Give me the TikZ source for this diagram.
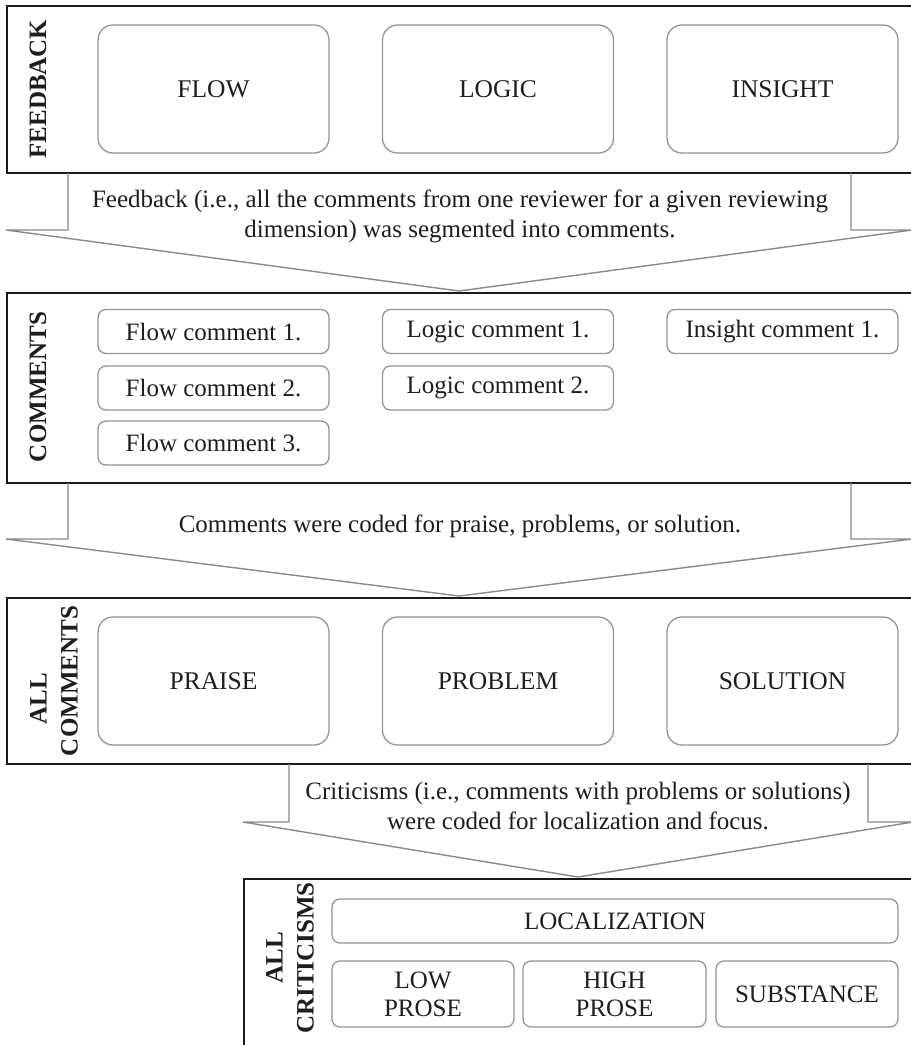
\documentclass[tikz,border=0pt]{standalone}
\usepackage{fontspec}
\setmainfont{Liberation Serif}
\definecolor{framecol}{HTML}{1A1A1A}
\definecolor{boxcol}{HTML}{959595}
\definecolor{arrcol}{HTML}{8A8A8A}
\definecolor{txtcol}{HTML}{1E1E1E}
\tikzset{
  frame/.style={draw=framecol, line width=2pt, fill=white, anchor=north west, inner sep=0pt},
  bigbox/.style={draw=boxcol, line width=1.3pt, rounded corners=15pt, inner sep=0pt,
    text=txtcol, font=\fontsize{25.5}{29}\selectfont, minimum width=231pt, minimum height=128pt, align=center},
  smallbox/.style={draw=boxcol, line width=1.3pt, rounded corners=8pt, inner sep=0pt,
    text=txtcol, font=\fontsize{25}{28}\selectfont, minimum height=44pt, align=center},
  sidelabel/.style={rotate=90, font=\bfseries\fontsize{25}{31}\selectfont, text=txtcol, align=center, inner sep=0pt},
  arrtext/.style={font=\fontsize{25}{30}\selectfont, text=txtcol, align=center, inner sep=0pt},
  blockarrow/.style={draw=arrcol, line width=1.4pt, line join=miter}
}
\begin{document}
\begin{tikzpicture}[x=1pt,y=-1pt]
\useasboundingbox (0,0) rectangle (911,1045);
\clip (0,0) rectangle (911,1045);
\fill[white] (0,0) rectangle (911,1045);

% ---------- Frame 1: FEEDBACK ----------
\node[frame, minimum width=912pt, minimum height=167pt] (f1) at (6,5) {};
\node[sidelabel] (l1) at (38,89) {FEEDBACK};
\node[bigbox] (flow) at (213.5,89) {FLOW};
\node[bigbox] (logic) at (498,89) {LOGIC};
\node[bigbox] (insight) at (782.5,89) {INSIGHT};

% ---------- Frame 2: COMMENTS ----------
\node[frame, minimum width=912pt, minimum height=190pt] (f2) at (6,292) {};
\node[sidelabel] (l2) at (38,387) {COMMENTS};
\node[smallbox, minimum width=231pt] (fc1) at (213.5,331.5) {Flow comment 1.};
\node[smallbox, minimum width=231pt] (fc2) at (213.5,388) {Flow comment 2.};
\node[smallbox, minimum width=231pt] (fc3) at (213.5,443) {Flow comment 3.};
\node[smallbox, minimum width=231pt] (lc1) at (498,331.5) {Logic comment 1.};
\node[smallbox, minimum width=231pt] (lc2) at (498,388) {Logic comment 2.};
\node[smallbox, minimum width=231pt] (ic1) at (782.5,331.5) {Insight comment 1.};

% ---------- Frame 3: ALL COMMENTS ----------
\node[frame, minimum width=912pt, minimum height=166pt] (f3) at (6,597) {};
\node[sidelabel] (l3) at (54,681) {ALL\hspace*{36pt}\\COMMENTS};
\node[bigbox] (praise) at (213.5,681) {PRAISE};
\node[bigbox] (problem) at (498,681) {PROBLEM};
\node[bigbox] (solution) at (782.5,681) {SOLUTION};

% ---------- Frame 4: ALL CRITICISMS ----------
\node[frame, minimum width=680pt, minimum height=200pt] (f4) at (243,878) {};
\node[sidelabel] (l4) at (290,958) {ALL\\CRITICISMS};
\node[smallbox, minimum width=566pt] (loc) at (615,921) {LOCALIZATION};
\node[smallbox, minimum width=182pt, minimum height=66pt] (low) at (423,994) {LOW\\PROSE};
\node[smallbox, minimum width=183pt, minimum height=66pt] (high) at (614.5,994) {HIGH\\PROSE};
\node[smallbox, minimum width=182pt, minimum height=66pt] (subst) at (807,994) {SUBSTANCE};

% ---------- Block arrows ----------
\draw[blockarrow] (68,173) -- (68,230) -- (6,230) -- (459,291) -- (912,230) -- (851,230) -- (851,173);
\node[arrtext] (t1) at (460,216) {Feedback (i.e., all the comments from one reviewer for a given reviewing\\dimension) was segmented into comments.};

\draw[blockarrow] (68,483) -- (68,539) -- (6,539) -- (459,596) -- (912,539) -- (851,539) -- (851,483);
\node[arrtext, anchor=base] (t2) at (460,532) {Comments were coded for praise, problems, or solution.};

\draw[blockarrow] (289,764) -- (289,822) -- (243,822) -- (578,877) -- (913,822) -- (868,822) -- (868,764);
\node[arrtext] (t3) at (578,806) {Criticisms (i.e., comments with problems or solutions)\\were coded for localization and focus.};
\end{tikzpicture}
\end{document}
